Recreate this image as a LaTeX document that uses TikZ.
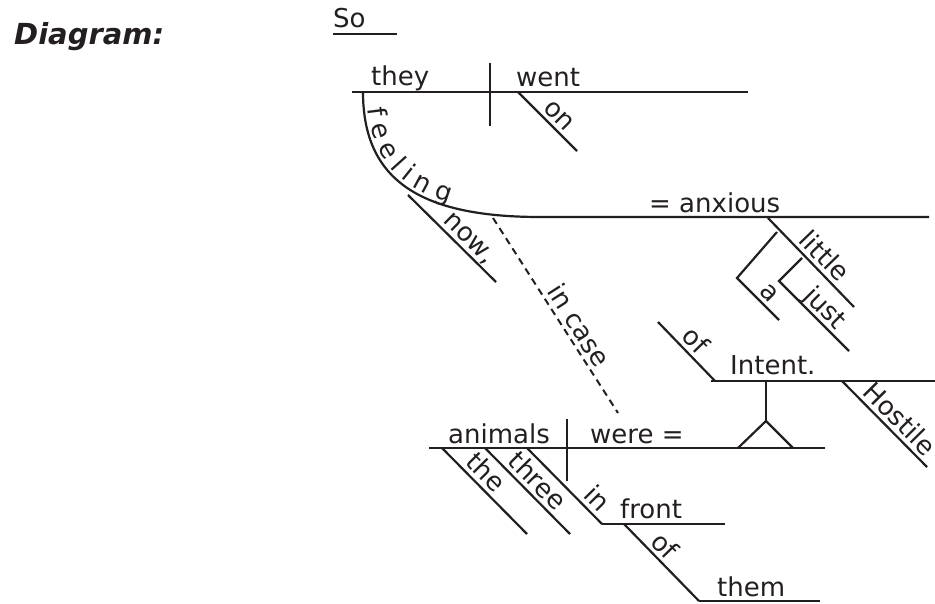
\documentclass[tikz,border=0pt]{standalone}
\usepackage{fontspec}
\setmainfont{DejaVu Sans}
\usetikzlibrary{decorations.text}
\definecolor{ink}{RGB}{35,31,32}
\begin{document}
\begin{tikzpicture}[x=1pt,y=-1pt,
  rule/.style={draw=ink, line width=2.2pt},
  word/.style={inner sep=0pt, anchor=base west, text=ink},
  slant/.style={sloped, anchor=south, inner xsep=0pt, inner ysep=4pt,
                text depth=0pt, text=ink}]
\fontsize{26}{31}\selectfont
\useasboundingbox (0,0) rectangle (935,604);

% heading
\node[word, font=\fontsize{29}{34}\selectfont\bfseries\itshape] (hd) at (14,45) {Diagram:};

% "So" on its own short line
\node[word] (so) at (333,28) {So};
\coordinate (soA) at (333,34); \coordinate (soB) at (397,34);
\draw[rule] (soA) -- (soB);

% main clause: they | went
\coordinate (mA) at (352,92);  \coordinate (mB) at (748,92);
\coordinate (dT) at (490,63);  \coordinate (dB) at (490,126);
\draw[rule] (mA) -- (mB);
\draw[rule] (dT) -- (dB);
\node[word] (they) at (371,86) {they};
\node[word] (went) at (516,87) {went};
\coordinate (onA) at (518,92); \coordinate (onB) at (577,151);
\draw[rule] (onA) -- (onB) node[slant, pos=0.55] (on) {on};

% participle "feeling" bending into the complement line
\coordinate (fS) at (363,92); \coordinate (fE) at (540,217); \coordinate (axE) at (929,217);
\draw[rule] (fS) .. controls (363,180) and (420,217) .. (fE) -- (axE);
\path[decorate, decoration={text along path, text={f e e l i n g}, raise=4pt,
      text align={left indent=17pt}, text color=ink}]
  (fS) .. controls (363,180) and (420,217) .. (fE);
\node[word] (anx) at (649,213) {= anxious};
\coordinate (nwA) at (408,195); \coordinate (nwB) at (496,282);
\draw[rule] (nwA) -- (nwB) node[slant, pos=0.6] (now) {now,};

% modifiers of "anxious"
\coordinate (ltA) at (768,218); \coordinate (ltB) at (854,307);
\draw[rule] (ltA) -- (ltB) node[slant, pos=0.54] (little) {little};
\coordinate (aJ) at (777,232); \coordinate (aC) at (737,278); \coordinate (aE) at (779,320);
\draw[rule] (aJ) -- (aC) -- (aE) node[slant, pos=0.57] (a) {a};
\coordinate (jJ) at (802,258); \coordinate (jC) at (779,281); \coordinate (jE) at (849,351);
\draw[rule] (jJ) -- (jC) -- (jE) node[slant, pos=0.52] (just) {just};

% "of Hostile Intent." phrase on a pedestal
\coordinate (ofA) at (658,322); \coordinate (ofB) at (715,381);
\draw[rule] (ofA) -- (ofB) node[slant, pos=0.48] (of1) {of};
\coordinate (inA) at (711,381); \coordinate (inB) at (935,381);
\draw[rule] (inA) -- (inB);
\node[word] (intent) at (730,374) {Intent.};
\coordinate (hoA) at (842,381); \coordinate (hoB) at (927,467);
\draw[rule] (hoA) -- (hoB) node[slant, pos=0.56] (hostile) {Hostile};
\coordinate (pT) at (766,381); \coordinate (pA) at (766,421);
\coordinate (pL) at (738,448); \coordinate (pR) at (793,448);
\draw[rule] (pT) -- (pA);
\draw[rule, line join=miter] (pL) -- (pA) -- (pR);

% subordinate clause: animals | were =
\coordinate (sA) at (429,448); \coordinate (sB) at (825,448);
\coordinate (sT) at (567,419); \coordinate (sD) at (567,481);
\draw[rule] (sA) -- (sB);
\draw[rule] (sT) -- (sD);
\node[word] (animals) at (448,443) {animals};
\node[word] (were) at (590,443) {were =};

% link "in case"
\coordinate (icA) at (493,218); \coordinate (icB) at (618,413);
\draw[rule, line width=2pt, dash pattern=on 7pt off 5pt] (icA) -- (icB)
  node[slant, pos=0.59] (incase) {in case};

% modifiers of "animals"
\coordinate (thA) at (442,448); \coordinate (thB) at (527,534);
\draw[rule] (thA) -- (thB) node[slant, pos=0.4] (the) {the};
\coordinate (trA) at (485,448); \coordinate (trB) at (570,534);
\draw[rule] (trA) -- (trB) node[slant, pos=0.5] (three) {three};
\coordinate (iA) at (527,448); \coordinate (iB) at (602,524); \coordinate (iC) at (725,524);
\draw[rule] (iA) -- (iB) node[slant, pos=0.8] (in) {in};
\draw[rule] (iB) -- (iC);
\node[word] (front) at (620,518) {front};
\coordinate (oA) at (624,524); \coordinate (oB) at (699,601); \coordinate (oC) at (820,601);
\draw[rule] (oA) -- (oB) node[slant, pos=0.41] (of2) {of};
\draw[rule] (oB) -- (oC);
\node[word] (them) at (717,596) {them};
\end{tikzpicture}
\end{document}
